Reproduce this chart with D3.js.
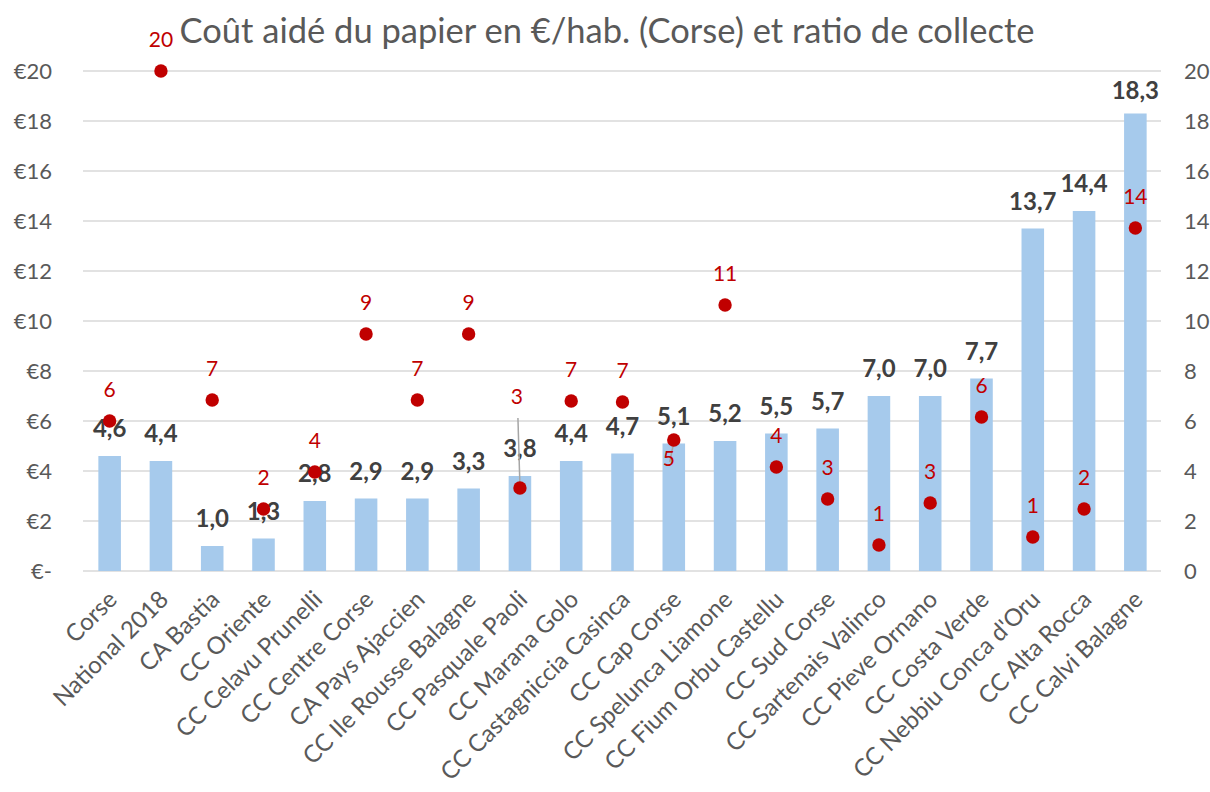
<!DOCTYPE html>
<html>
<head>
<meta charset="utf-8">
<script src="https://cdn.jsdelivr.net/npm/d3@7"></script>
<style>
  body { margin: 0; background: #fff; }
  text { font-family: Lato, "Open Sans", sans-serif; }
</style>
</head>
<body>
<div id="chart"></div>
<script>
// data
var categories = ["Corse", "National 2018", "CA Bastia", "CC Oriente", "CC Celavu Prunelli",
  "CC Centre Corse", "CA Pays Ajaccien", "CC Ile Rousse Balagne", "CC Pasquale Paoli",
  "CC Marana Golo", "CC Castagniccia Casinca", "CC Cap Corse", "CC Spelunca Liamone",
  "CC Fium Orbu Castellu", "CC Sud Corse", "CC Sartenais Valinco", "CC Pieve Ornano",
  "CC Costa Verde", "CC Nebbiu Conca d'Oru", "CC Alta Rocca", "CC Calvi Balagne"];
var costValues = [4.6, 4.4, 1.0, 1.3, 2.8, 2.9, 2.9, 3.3, 3.8, 4.4, 4.7, 5.1, 5.2, 5.5, 5.7, 7.0, 7.0, 7.7, 13.7, 14.4, 18.3];
var ratioValues = [6.0, 20.0, 6.84, 2.48, 3.96, 9.48, 6.84, 9.48, 3.32, 6.8, 6.76, 5.24, 10.64, 4.16, 2.88, 1.04, 2.72, 6.16, 1.36, 2.48, 13.72];
var yTicks = [0, 2, 4, 6, 8, 10, 12, 14, 16, 18, 20];
var title = "Coût aidé du papier en €/hab. (Corse) et ratio de collecte";

var width = 1210,
  height = 792;

var svg = d3.select("#chart")
  .append("svg")
  .attr("width", width)
  .attr("height", height);

var x = d3.scaleBand()
  .domain(categories)
  .range([84, 1161])
  .paddingInner(0.56)
  .paddingOuter(0.28);

var y = d3.scaleLinear().domain([0, 20]).range([571, 71]);
var y2 = d3.scaleLinear().domain([0, 20]).range([571, 71]);

var comma = function(v) { return d3.format(".1f")(v).replace(".", ","); };
var cx = function(d) { return x(d) + x.bandwidth() / 2; };

// title
svg.append("text")
  .attr("x", 607)
  .attr("y", 43)
  .attr("text-anchor", "middle")
  .style("font-size", "34.5px")
  .style("fill", "#595959")
  .text(title);

// gridlines
svg.append("g")
  .selectAll("line")
  .data(yTicks)
  .enter()
  .append("line")
  .attr("x1", 83)
  .attr("x2", 1161)
  .attr("y1", function(d) { return y(d); })
  .attr("y2", function(d) { return y(d); })
  .attr("stroke", "#d9d9d9")
  .attr("stroke-width", 1.5);

// left axis
var leftAxis = svg.append("g")
  .attr("transform", "translate(83,0)")
  .call(d3.axisLeft(y).tickValues(yTicks).tickSize(0).tickPadding(31)
    .tickFormat(function(d) { return d === 0 ? "€-" : "€" + d; }));
leftAxis.select(".domain").remove();
leftAxis.selectAll("text")
  .style("font-family", "Lato, sans-serif")
  .style("font-size", "22px")
  .style("fill", "#595959");

// right axis
var rightAxis = svg.append("g")
  .attr("transform", "translate(1161,0)")
  .call(d3.axisRight(y2).tickValues(yTicks).tickSize(0).tickPadding(23));
rightAxis.select(".domain").remove();
rightAxis.selectAll("text")
  .style("font-family", "Lato, sans-serif")
  .style("font-size", "22px")
  .style("fill", "#595959");

// bars
svg.append("g")
  .selectAll("rect")
  .data(categories)
  .enter()
  .append("rect")
  .attr("x", function(d) { return x(d); })
  .attr("width", x.bandwidth())
  .attr("y", function(d, i) { return y(costValues[i]); })
  .attr("height", function(d, i) { return y(0) - y(costValues[i]); })
  .attr("fill", "#a6caec");

// bar labels (kept inside the plot area at the top)
svg.append("g")
  .selectAll("text")
  .data(categories)
  .enter()
  .append("text")
  .attr("x", cx)
  .attr("y", function(d, i) { return Math.max(y(costValues[i]) - 19, 99); })
  .attr("text-anchor", "middle")
  .style("font-size", "24px")
  .style("font-weight", "bold")
  .style("fill", "#404040")
  .text(function(d, i) { return comma(costValues[i]); });

// x labels
svg.append("g")
  .selectAll("text")
  .data(categories)
  .enter()
  .append("text")
  .attr("transform", function(d) {
    return "translate(" + (cx(d) + 3) + ",595) rotate(-45)";
  })
  .attr("text-anchor", "end")
  .attr("dy", "0.35em")
  .style("font-size", "24px")
  .style("fill", "#595959")
  .text(function(d) { return d; });

// labels moved away from their dots, with leader lines
var labelMoves = {
  "CC Pasquale Paoli": { dx: -3, dy: -60, line: [-2, -70, 0, -2] },
  "CC Cap Corse": { dx: -5, dy: 50, line: [0, 2, -4, 22] }
};

svg.append("g")
  .selectAll("line")
  .data(categories.filter(function(d) { return labelMoves[d]; }))
  .enter()
  .append("line")
  .attr("x1", function(d) { return cx(d) + labelMoves[d].line[0]; })
  .attr("y1", function(d) { return y2(ratioValues[categories.indexOf(d)]) + labelMoves[d].line[1]; })
  .attr("x2", function(d) { return cx(d) + labelMoves[d].line[2]; })
  .attr("y2", function(d) { return y2(ratioValues[categories.indexOf(d)]) + labelMoves[d].line[3]; })
  .attr("stroke", "#a6a6a6")
  .attr("stroke-width", 1.5);

// dots
svg.append("g")
  .selectAll("circle")
  .data(categories)
  .enter()
  .append("circle")
  .attr("cx", cx)
  .attr("cy", function(d, i) { return y2(ratioValues[i]); })
  .attr("r", 6.7)
  .attr("fill", "#c00000");

// dot labels
svg.append("g")
  .selectAll("text")
  .data(categories)
  .enter()
  .append("text")
  .attr("x", function(d) { return cx(d) + (labelMoves[d] ? labelMoves[d].dx : 0); })
  .attr("y", function(d, i) {
    var base = y2(ratioValues[i]) - 24;
    return labelMoves[d] ? base + labelMoves[d].dy : base;
  })
  .attr("text-anchor", "middle")
  .style("font-size", "21px")
  .style("fill", "#c00000")
  .text(function(d, i) { return Math.round(ratioValues[i]); });
</script>
</body>
</html>
